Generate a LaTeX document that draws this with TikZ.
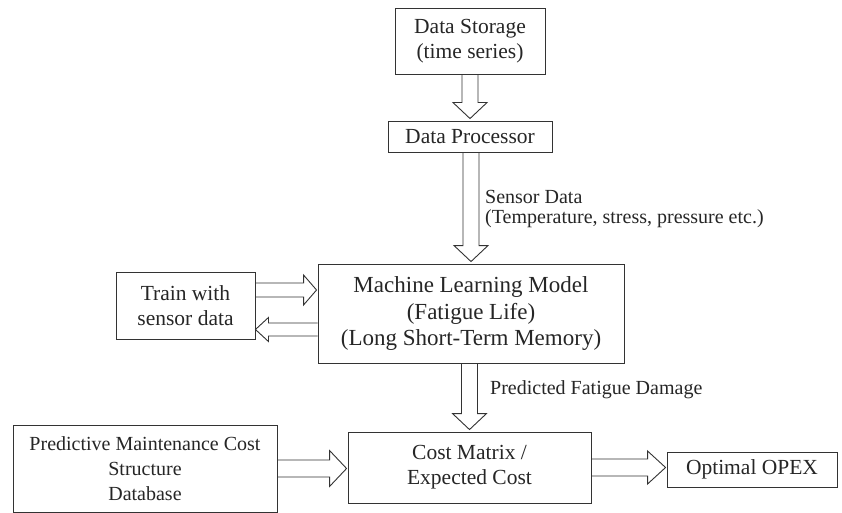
\documentclass[tikz,border=0pt]{standalone}
\usepackage{fontspec}
\setmainfont{Liberation Serif}
\usetikzlibrary{calc}
\tikzset{
  x=1pt,y=1pt,
  box/.style={draw=black!80, line width=0.9pt, inner sep=0pt, align=center, text=black!85,
    font=\fontsize{21.5}{25}\selectfont},
  fat/.style={draw=black!80, line width=0.9pt, line join=miter},
  lbl/.style={anchor=west, align=left, inner sep=0pt, text=black!85, font=\fontsize{20}{19.5}\selectfont}
}
\newcommand\fatdown[2]{%
  \path ($(#1.south -| #2.north)$) coordinate (S);
  \path ($(#2.north)+(0,2)$) coordinate (T);
  \draw[fat] ($(S)+(-8,0)$) -- ($(T)+(-8,16)$) -- ($(T)+(-17,16)$) -- (T) -- ($(T)+(17,16)$) -- ($(T)+(8,16)$) -- ($(S)+(8,0)$);}
% from, to, shift, shaft half width, head half width, head length
\newcommand\fatright[6]{%
  \path ($(#1.east)+(0,#3)$) coordinate (S);
  \path ($(#2.west |- S)+(-1,0)$) coordinate (T);
  \draw[fat] ($(S)+(0,#4)$) -- ($(T)+(-#6,#4)$) -- ($(T)+(-#6,#5)$) -- (T) -- ($(T)+(-#6,-#5)$) -- ($(T)+(-#6,-#4)$) -- ($(S)+(0,-#4)$);}
\newcommand\fatleft[6]{%
  \path ($(#1.west)+(0,#3)$) coordinate (S);
  \path ($(#2.east |- S)$) coordinate (T);
  \draw[fat] ($(S)+(0,#4)$) -- ($(T)+(#6,#4)$) -- ($(T)+(#6,#5)$) -- (T) -- ($(T)+(#6,-#5)$) -- ($(T)+(#6,-#4)$) -- ($(S)+(0,-#4)$);}
\begin{document}
\begin{tikzpicture}
\useasboundingbox[fill=white] (0,0) rectangle (842,-513);
\node[box, minimum width=150, minimum height=66] (ds) at (470,-41) {Data Storage\\(time series)};
\node[box, minimum width=164, minimum height=31] (dp) at (470,-136.5) {Data Processor};
\node[box, minimum width=306, minimum height=99, font=\fontsize{23}{26.7}\selectfont] (ml) at (471,-313.5) {Machine Learning Model\\(Fatigue Life)\\(Long Short-Term Memory)};
\node[box, minimum width=139, minimum height=67] (train) at (185.5,-305.5) {Train with\\sensor data};
\node[box, minimum width=264, minimum height=87, font=\fontsize{20}{25}\selectfont] (pred) at (145,-468.5) {Predictive Maintenance Cost\\Structure\\Database};
\node[box, minimum width=243, minimum height=71] (cost) at (469.5,-467.5) {Cost Matrix /\\Expected Cost};
\node[box, minimum width=170, minimum height=35] (opex) at (752,-469.5) {Optimal OPEX};
\node[lbl] (sens) at (485,-209) {Sensor Data\\(Temperature, stress, pressure etc.)};
\node[lbl] (pfd) at (490,-390) {Predicted Fatigue Damage};
\fatdown{ds}{dp}
\fatdown{dp}{ml}
\fatdown{ml}{cost}
\fatright{train}{ml}{15.5}{7}{15}{13}
\fatleft{ml}{train}{-16}{6.5}{12}{13}
\fatright{pred}{cost}{0}{8.5}{18}{17}
\fatright{cost}{opex}{0}{8.5}{16.5}{18}
\end{tikzpicture}
\end{document}
